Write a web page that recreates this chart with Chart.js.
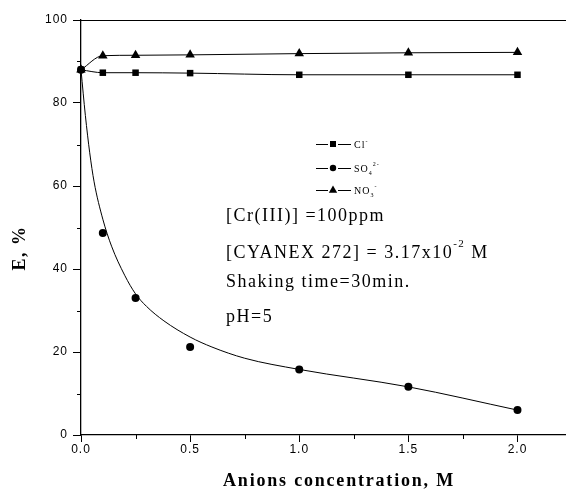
<!DOCTYPE html>
<html>
<head>
<meta charset="utf-8">
<script src="https://cdn.jsdelivr.net/npm/chart.js"></script>
<style>
  html, body { margin: 0; padding: 0; background: #fff; }
  #wrap { width: 571px; height: 494px; }
</style>
</head>
<body>
<div id="wrap"><canvas id="chart" width="571" height="494"></canvas></div>
<script>
// anion concentration, M
var conc = [0, 0.1, 0.25, 0.5, 1.0, 1.5, 2.0];
// extraction E, % for each anion
var clE = [88, 87.3, 87.3, 87.2, 86.8, 86.8, 86.8];
var so4E = [88, 48.7, 33, 21.2, 15.8, 11.6, 6];
var no3E = [88, 91.4, 91.5, 91.6, 91.9, 92.1, 92.2];
// fitted curve through the sulphate points
var so4FitConc = [0, 0.02, 0.04, 0.06, 0.1, 0.14, 0.2, 0.25, 0.3, 0.38, 0.5, 0.6, 0.75, 1.0, 1.5, 2.0];
var so4FitE = [88, 77, 68, 61, 52, 45.5, 38.5, 34, 31, 27.5, 23.6, 21.2, 18.5, 15.8, 11.6, 6.0];

var xTicks = [0, 0.5, 1.0, 1.5, 2.0];
var xMinor = [0.25, 0.75, 1.25, 1.75];
var yTicks = [0, 20, 40, 60, 80, 100];
var yMinor = [10, 30, 50, 70, 90];

var notes = ['[Cr(III)] =100ppm', '[CYANEX 272] = 3.17x10', 'Shaking time=30min.', 'pH=5'];

function pts(xs, ys) {
  return xs.map(function (v, i) { return { x: v, y: ys[i] }; });
}

function marker(ctx, style, x, y, r) {
  ctx.beginPath();
  if (style === 'rect') {
    ctx.rect(x - r, y - r, 2 * r, 2 * r);
  } else if (style === 'circle') {
    ctx.arc(x, y, r, 0, Math.PI * 2);
  } else {
    ctx.moveTo(x, y - r * 1.1);
    ctx.lineTo(x + r * 1.05, y + r * 0.7);
    ctx.lineTo(x - r * 1.05, y + r * 0.7);
    ctx.closePath();
  }
  ctx.fill();
}

// draw text made of parts, some raised or lowered
function rich(ctx, x, y, parts, size, fam) {
  parts.forEach(function (p) {
    var s = p.small ? Math.round(size * 0.6) : size;
    ctx.font = s + 'px ' + fam;
    ctx.fillText(p.t, x, y + (p.dy || 0));
    x += ctx.measureText(p.t).width;
  });
  return x;
}

var deco = {
  id: 'deco',
  beforeDraw: function (chart) {
    chart.ctx.letterSpacing = '1px';
  },
  afterDraw: function (chart) {
    var ctx = chart.ctx, xs = chart.scales.x, ys = chart.scales.y;
    ctx.save();
    ctx.strokeStyle = '#000';
    ctx.fillStyle = '#000';
    ctx.lineWidth = 1;

    // minor ticks
    ctx.beginPath();
    xMinor.forEach(function (v) {
      var px = Math.round(xs.getPixelForValue(v)) + 0.5;
      ctx.moveTo(px, xs.top);
      ctx.lineTo(px, xs.top + 4);
    });
    yMinor.forEach(function (v) {
      var py = Math.round(ys.getPixelForValue(v)) + 0.5;
      ctx.moveTo(ys.right - 4, py);
      ctx.lineTo(ys.right, py);
    });
    ctx.stroke();

    // legend
    var fam = '"Liberation Serif", serif';
    var leg = [
      { style: 'rect', r: 3, y: 144, parts: [{ t: 'Cl' }, { t: '-', small: true, dy: -5 }] },
      { style: 'circle', r: 3.2, y: 168, parts: [{ t: 'SO' }, { t: '4', small: true, dy: 3 }, { t: '2-', small: true, dy: -6 }] },
      { style: 'triangle', r: 4, y: 190, parts: [{ t: 'NO' }, { t: '3', small: true, dy: 3 }, { t: '-', small: true, dy: -6 }] }
    ];
    ctx.letterSpacing = '1px';
    leg.forEach(function (e) {
      ctx.beginPath();
      ctx.moveTo(316, e.y + 0.5); ctx.lineTo(328, e.y + 0.5);
      ctx.moveTo(338, e.y + 0.5); ctx.lineTo(351, e.y + 0.5);
      ctx.stroke();
      marker(ctx, e.style, 333, e.y, e.r);
      rich(ctx, 354, e.y + 4, e.parts, 10, fam);
    });

    // conditions
    ctx.letterSpacing = '1.5px';
    var sz = 18;
    ctx.font = sz + 'px ' + fam;
    ctx.fillText(notes[0], 226, 221);
    rich(ctx, 226, 258, [{ t: notes[1] }, { t: '-2', small: true, dy: -11 }, { t: ' M' }], sz, fam);
    ctx.font = sz + 'px ' + fam;
    ctx.fillText(notes[2], 226, 287);
    ctx.fillText(notes[3], 226, 322);

    // axis titles
    ctx.font = 'bold 18px "Liberation Serif", serif';
    ctx.letterSpacing = '1.8px';
    ctx.textAlign = 'center';
    ctx.textBaseline = 'middle';
    ctx.fillText('Anions concentration, M', 339, 481);
    ctx.letterSpacing = '1.5px';
    ctx.translate(20, 248);
    ctx.rotate(-Math.PI / 2);
    ctx.fillText('E, %', 0, 0);
    ctx.restore();
  }
};

var tickFont = { family: '"Liberation Sans", Arial, sans-serif', size: 12 };

new Chart(document.getElementById('chart'), {
  type: 'scatter',
  data: {
    datasets: [
      {
        label: 'Cl-',
        data: pts(conc, clE),
        showLine: true,
        cubicInterpolationMode: 'monotone',
        borderColor: '#000',
        borderWidth: 1,
        backgroundColor: '#000',
        pointStyle: 'rect',
        pointRadius: 4.6,
        pointBorderWidth: 0,
        clip: false
      },
      {
        label: 'SO4 2-',
        data: pts(conc, so4E),
        showLine: false,
        backgroundColor: '#000',
        borderColor: '#000',
        pointStyle: 'circle',
        pointRadius: 4,
        pointBorderWidth: 0,
        clip: false
      },
      {
        label: 'SO4 2- fit',
        data: pts(so4FitConc, so4FitE),
        showLine: true,
        cubicInterpolationMode: 'monotone',
        borderColor: '#000',
        borderWidth: 1,
        pointRadius: 0,
        clip: false
      },
      {
        label: 'NO3-',
        data: pts(conc, no3E),
        showLine: true,
        cubicInterpolationMode: 'monotone',
        borderColor: '#000',
        borderWidth: 1,
        backgroundColor: '#000',
        pointStyle: 'triangle',
        pointRadius: 5.5,
        pointBorderWidth: 0,
        clip: false
      }
    ]
  },
  options: {
    responsive: false,
    animation: false,
    layout: { padding: { top: 20, right: 0, bottom: 0, left: 0 } },
    plugins: {
      legend: { display: false },
      tooltip: { enabled: false }
    },
    scales: {
      x: {
        type: 'linear',
        position: 'bottom',
        min: 0,
        max: 2.22,
        afterBuildTicks: function (s) { s.ticks = xTicks.map(function (v) { return { value: v }; }); },
        afterFit: function (s) { s.height = 59; },
        ticks: {
          color: '#000',
          font: tickFont,
          padding: 0,
          maxRotation: 0,
          callback: function (v) { return Number(v).toFixed(1); }
        },
        grid: { drawOnChartArea: false, tickLength: 7, color: '#000', tickWidth: 1 },
        border: { color: '#000', width: 1.3 }
      },
      xTop: {
        type: 'linear',
        position: 'top',
        min: 0,
        max: 2.22,
        afterFit: function (s) { s.height = 0; },
        ticks: { display: false },
        grid: { display: false, drawTicks: false },
        border: { color: '#000', width: 1 }
      },
      y: {
        min: 0,
        max: 100,
        afterBuildTicks: function (s) { s.ticks = yTicks.map(function (v) { return { value: v }; }); },
        afterFit: function (s) { s.width = 81; },
        ticks: { color: '#000', font: tickFont, padding: 5 },
        grid: { drawOnChartArea: false, tickLength: 8, color: '#000', tickWidth: 1 },
        border: { color: '#000', width: 1.3 }
      }
    }
  },
  plugins: [deco]
});
</script>
</body>
</html>
